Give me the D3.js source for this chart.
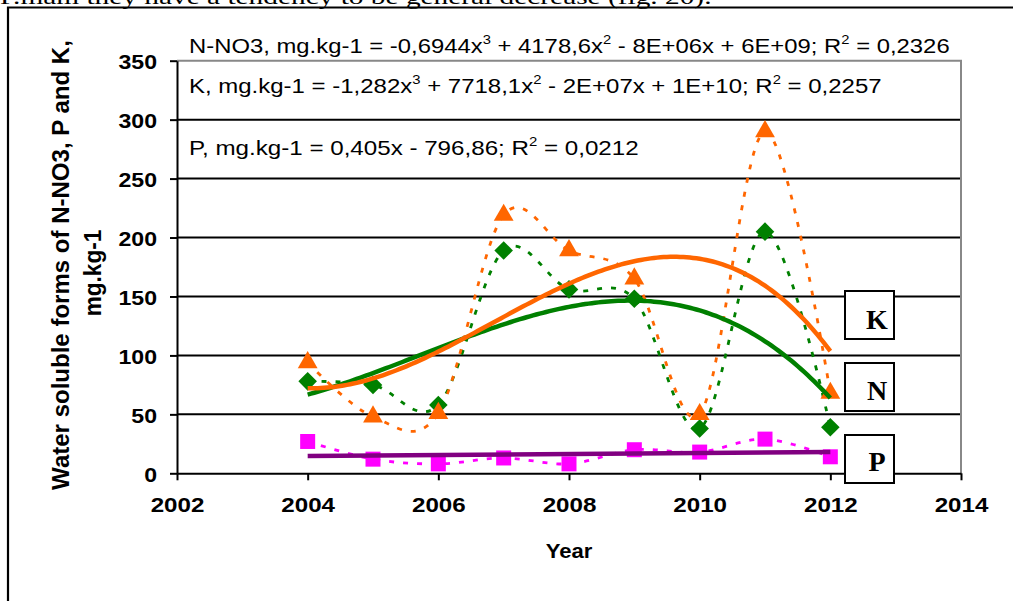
<!DOCTYPE html>
<html>
<head>
<meta charset="utf-8">
<script src="https://cdn.jsdelivr.net/npm/d3@7"></script>
<style>
  html, body { margin: 0; padding: 0; background: #fff; }
  svg { display: block; }
</style>
</head>
<body>
<svg id="chart" width="1013" height="601"></svg>
<script>
// ---- data ----
const years = [2004, 2005, 2006, 2007, 2008, 2009, 2010, 2011, 2012];
const nitrate = [78, 75, 58, 189, 156, 148, 38, 205, 39];
const potassium = [94, 48, 51, 219, 189, 165, 50, 290, 68];
const phosphorus = [27, 12, 8, 13, 8, 20, 18, 29, 14];

const xTicks = [2002, 2004, 2006, 2008, 2010, 2012, 2014];
const yTicks = [0, 50, 100, 150, 200, 250, 300, 350];

// linear trend for P as stated in its label: y = 0,405x - 796,86
const pSlope = 0.405;
const pIntercept = -796.86;

// equation labels: [text, superscript] pairs
const eqNitrate = [["N-NO3, mg.kg-1 = -0,6944x", "3"], [" + 4178,6x", "2"], [" - 8E+06x + 6E+09; R", "2"], [" = 0,2326", ""]];
const eqPotassium = [["K, mg.kg-1 = -1,282x", "3"], [" + 7718,1x", "2"], [" - 2E+07x + 1E+10; R", "2"], [" = 0,2257", ""]];
const eqPhosphorus = [["P, mg.kg-1 = 0,405x - 796,86; R", "2"], [" = 0,0212", ""]];

const seriesLabels = ["K", "N", "P"];

const GREEN = "#008000", ORANGE = "#FF6600", MAGENTA = "#FF00FF", PURPLE = "#800080";

const svg = d3.select("#chart");
svg.append("rect").attr("width", 1013).attr("height", 601).attr("fill", "#fff");

// page text cut at top and frame of the figure
svg.append("text")
  .attr("id", "pagetext")
  .attr("font-family", "Liberation Serif, Times New Roman, serif")
  .attr("font-size", 20)
  .text("P.mam they have a tendency to be general decrease (fig. 20).");
svg.append("path")
  .attr("d", "M8,601 L8,7.5 L1013,7.5")
  .attr("fill", "none").attr("stroke", "#000").attr("stroke-width", 2.2);

// stretch a text horizontally so it spans a given width
function fitText(sel, x, y, width) {
  const w = sel.node().getBBox().width;
  sel.attr("transform", `translate(${x},${y}) scale(${width / w},1)`);
}
fitText(svg.select("#pagetext"), 0, 3.5, 712);

// ---- scales ----
const x = d3.scaleLinear().domain([2002, 2014]).range([177, 961]);
const y = d3.scaleLinear().domain([0, 350]).range([473.3, 60.7]);

// gridlines
svg.append("g").selectAll("line").data(yTicks.filter(v => v > 0 && v < 350)).join("line")
  .attr("x1", x(2002)).attr("x2", x(2014))
  .attr("y1", d => y(d)).attr("y2", d => y(d))
  .attr("stroke", "#000").attr("stroke-width", 2);

// plot area border (top and right)
svg.append("path")
  .attr("d", `M${x(2002)},${y(350)} L${x(2014)},${y(350)} L${x(2014)},${y(0)}`)
  .attr("fill", "none").attr("stroke", "#888").attr("stroke-width", 2);

// ---- axes ----
const fontSans = "Liberation Sans, Arial, sans-serif";

const yAxis = svg.append("g")
  .attr("transform", `translate(${x(2002)},0)`)
  .call(d3.axisLeft(y).tickValues(yTicks).tickSize(7).tickSizeOuter(0).tickPadding(0));
yAxis.select(".domain").attr("stroke", "#000").attr("stroke-width", 2);
yAxis.selectAll(".tick line").attr("stroke", "#000").attr("stroke-width", 2);
yAxis.selectAll(".tick text")
  .attr("font-family", fontSans).attr("font-weight", "bold").attr("font-size", 21)
  .attr("fill", "#000").attr("x", 0).attr("dy", null)
  .attr("text-anchor", "end")
  .attr("transform", "translate(-20,8) scale(1.1,1)");

const xAxis = svg.append("g")
  .attr("transform", `translate(0,${y(0)})`)
  .call(d3.axisBottom(x).tickValues(xTicks).tickFormat(d3.format("d")).tickSize(7).tickSizeOuter(0).tickPadding(0));
xAxis.select(".domain").attr("stroke", "#000").attr("stroke-width", 2);
xAxis.selectAll(".tick line").attr("stroke", "#000").attr("stroke-width", 2);
xAxis.selectAll(".tick text")
  .attr("font-family", fontSans).attr("font-weight", "bold").attr("font-size", 21)
  .attr("fill", "#000").attr("y", 0).attr("dy", null)
  .attr("transform", "translate(0,39) scale(1.15,1)");

// axis titles
const xTitle = svg.append("text")
  .attr("font-family", fontSans).attr("font-weight", "bold").attr("font-size", 21)
  .attr("text-anchor", "middle").text("Year");
xTitle.attr("transform", "translate(569,558) scale(1.05,1)");

const yTitleLines = ["Water soluble forms of N-NO3, P and K,", "mg.kg-1"];
const yTitleCx = [61, 93];
const yTitleCy = [265, 273];
const yTitleLen = [450, 87];
yTitleLines.forEach((s, i) => {
  const t = svg.append("text")
    .attr("font-family", fontSans).attr("font-weight", "bold").attr("font-size", 21)
    .attr("text-anchor", "middle").attr("dy", "0.36em").text(s);
  const w = t.node().getBBox().width;
  t.attr("transform", `translate(${yTitleCx[i]},${yTitleCy[i]}) rotate(-90) scale(${yTitleLen[i] / w},1.12)`);
});

// ---- equation labels ----
function equation(parts, x0, base, width) {
  const t = svg.append("text")
    .attr("font-family", fontSans).attr("font-size", 21).attr("fill", "#000");
  let raised = false;
  parts.forEach(([main, sup]) => {
    t.append("tspan").attr("dy", raised ? 9 : 0).text(main);
    raised = false;
    if (sup) {
      t.append("tspan").attr("font-size", 13).attr("dy", -9).text(sup);
      raised = true;
    }
  });
  fitText(t, x0, base, width);
}
equation(eqNitrate, 189, 53.3, 761);
equation(eqPotassium, 189, 93, 693);
equation(eqPhosphorus, 189, 155, 450);

// ---- least-squares polynomial trend ----
function polyFit(xs, ys, degree) {
  const n = degree + 1;
  const A = Array.from({ length: n }, () => new Array(n + 1).fill(0));
  xs.forEach((xv, k) => {
    for (let i = 0; i < n; i++) {
      for (let j = 0; j < n; j++) A[i][j] += Math.pow(xv, i + j);
      A[i][n] += ys[k] * Math.pow(xv, i);
    }
  });
  for (let c = 0; c < n; c++) {
    let p = c;
    for (let r = c + 1; r < n; r++) if (Math.abs(A[r][c]) > Math.abs(A[p][c])) p = r;
    [A[c], A[p]] = [A[p], A[c]];
    for (let r = 0; r < n; r++) {
      if (r === c) continue;
      const f = A[r][c] / A[c][c];
      for (let k = c; k <= n; k++) A[r][k] -= f * A[c][k];
    }
  }
  return A.map((row, i) => row[n] / row[i]);
}
const centre = 2008;
function cubicTrend(vals) {
  const coef = polyFit(years.map(v => v - centre), vals, 3);
  return yr => coef.reduce((s, c, i) => s + c * Math.pow(yr - centre, i), 0);
}
const trendYears = d3.range(2004, 2012.0001, 0.05);

// ---- series (smoothed dotted lines with markers) ----
const smooth = d3.line().curve(d3.curveCardinal.tension(0)).x(d => x(d[0])).y(d => y(d[1]));
const straight = d3.line().x(d => x(d[0])).y(d => y(d[1]));

const series = [
  { vals: nitrate, color: GREEN, symbol: d3.symbolDiamond2, area: 220 },
  { vals: potassium, color: ORANGE, symbol: d3.symbolTriangle, area: 170 },
  { vals: phosphorus, color: MAGENTA, symbol: d3.symbolSquare, area: 225 }
];

series.forEach(s => {
  const pts = years.map((yr, i) => [yr, s.vals[i]]);
  svg.append("path").attr("d", smooth(pts))
    .attr("fill", "none").attr("stroke", s.color).attr("stroke-width", 2.8)
    .attr("stroke-dasharray", "5,9");
});
series.forEach(s => {
  const pts = years.map((yr, i) => [yr, s.vals[i]]);
  svg.append("g").selectAll("path").data(pts).join("path")
    .attr("d", d3.symbol(s.symbol).size(s.area))
    .attr("transform", d => `translate(${x(d[0])},${y(d[1])})`)
    .attr("fill", s.color);
});

// ---- trend lines ----
const nTrend = cubicTrend(nitrate);
const kTrend = cubicTrend(potassium);
svg.append("path").attr("d", straight(trendYears.map(t => [t, nTrend(t)])))
  .attr("fill", "none").attr("stroke", GREEN).attr("stroke-width", 4.5);
svg.append("path").attr("d", straight(trendYears.map(t => [t, kTrend(t)])))
  .attr("fill", "none").attr("stroke", ORANGE).attr("stroke-width", 4.5);
svg.append("path").attr("d", straight([2004, 2012].map(t => [t, pSlope * t + pIntercept])))
  .attr("fill", "none").attr("stroke", PURPLE).attr("stroke-width", 4.5);

// ---- series label boxes ----
const boxTop = [291, 363, 435];
const boxBase = [329, 400, 471];
seriesLabels.forEach((lab, i) => {
  svg.append("rect")
    .attr("x", 845).attr("y", boxTop[i]).attr("width", 49).attr("height", 48)
    .attr("fill", "#fff").attr("stroke", "#000").attr("stroke-width", 2);
  svg.append("text")
    .attr("x", 877).attr("y", boxBase[i])
    .attr("text-anchor", "middle")
    .attr("font-family", "Liberation Serif, Times New Roman, serif")
    .attr("font-weight", "bold").attr("font-size", 28)
    .text(lab);
});
</script>
</body>
</html>
